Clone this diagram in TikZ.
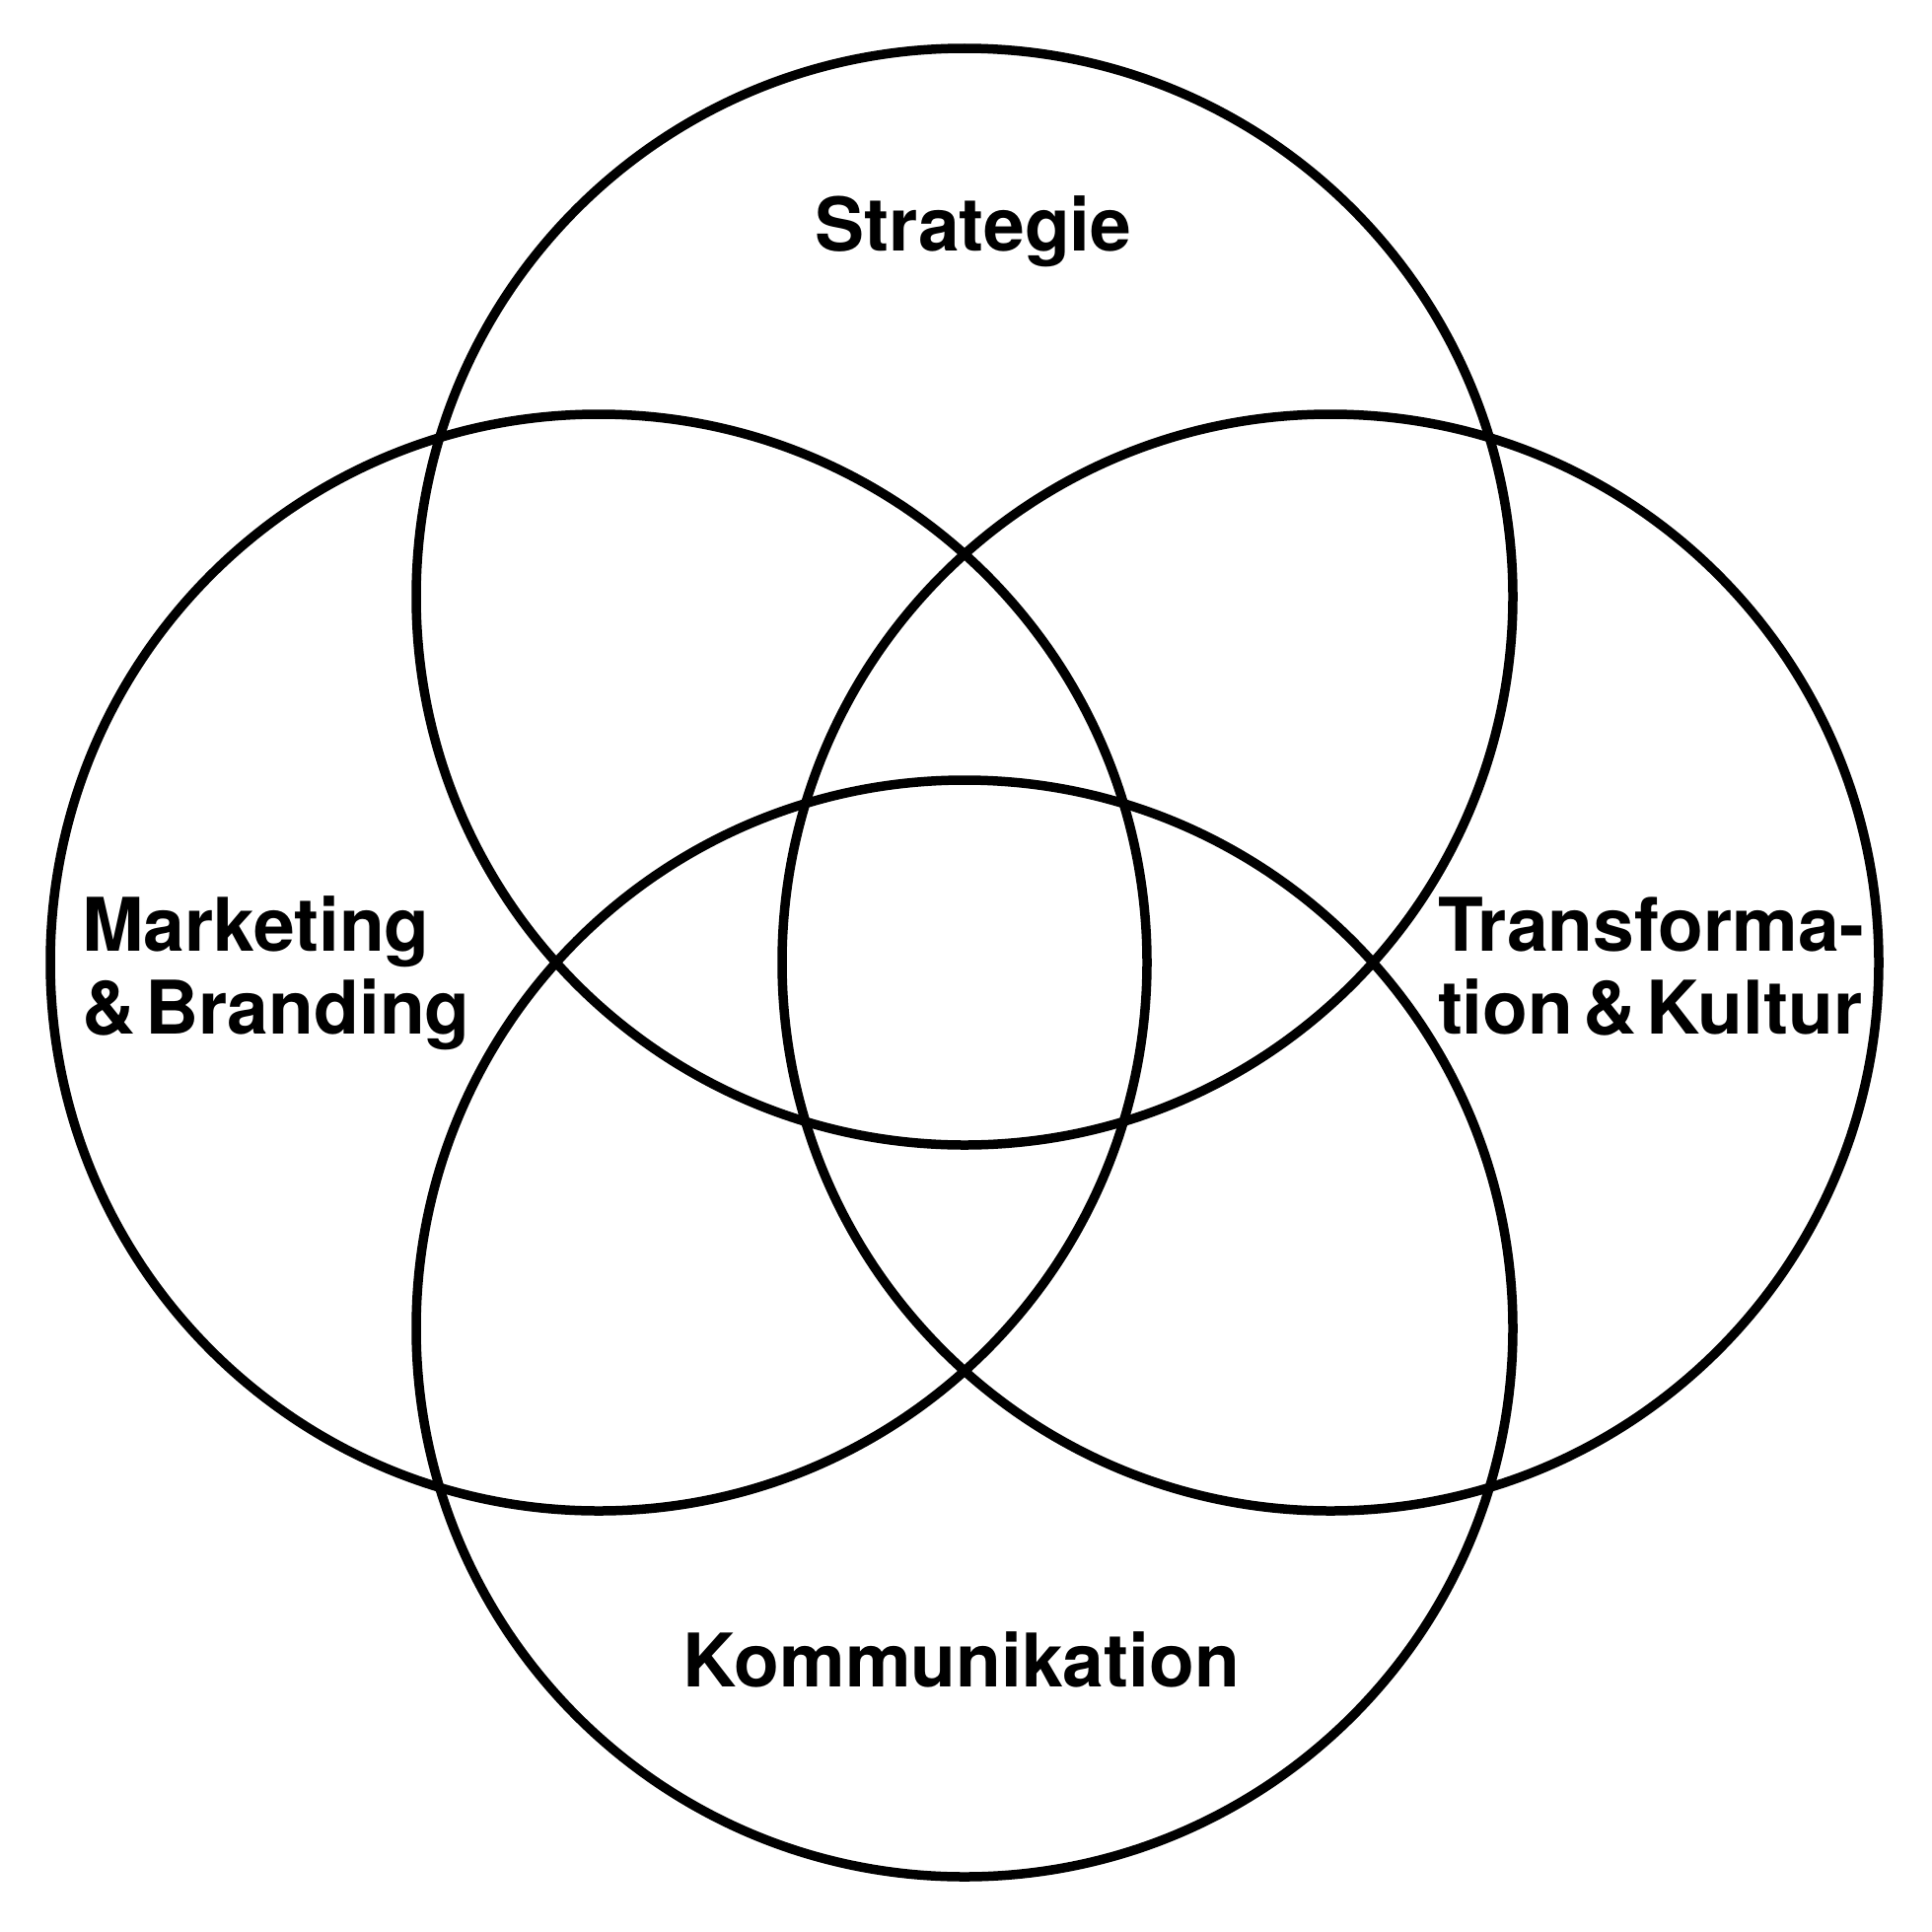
\documentclass[tikz,border=0pt]{standalone}
\usepackage{fontspec}
\newfontfamily\labelfont{TeX Gyre Heros}
\tikzset{
  ring/.style={draw=black, line width=9.5pt},
  lbl/.style={inner sep=0pt, outer sep=0pt, font=\labelfont\bfseries\fontsize{75}{84}\selectfont, text=black}
}
\begin{document}
\begin{tikzpicture}[x=1pt,y=-1pt]
\useasboundingbox[fill=white] (0,0) rectangle (1959,1959);
\draw[ring] (978,605) circle[radius=556];
\draw[ring] (607,976) circle[radius=556];
\draw[ring] (1349,976) circle[radius=556];
\draw[ring] (978,1347) circle[radius=556];
\node[lbl, anchor=base] (strat) at (987,254) {Strategie};
\node[lbl, anchor=base west] (mk1) at (83,964) {Marketing};
\node[lbl, anchor=base west] (mk2) at (83,1048) {\&\kern10pt Branding};
\node[lbl, anchor=base west] (tk1) at (1458,964) {Transforma-};
\node[lbl, anchor=base west] (tk2) at (1458,1048) {tion\kern10pt\&\kern10pt Kultur};
\node[lbl, anchor=base] (komm) at (975,1710) {Kommunikation};
\end{tikzpicture}
\end{document}
